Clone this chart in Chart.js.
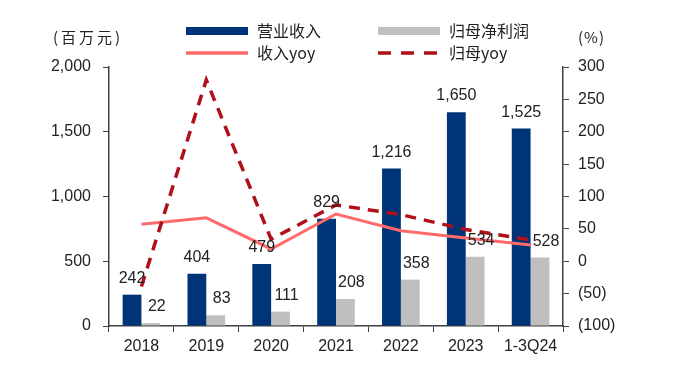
<!DOCTYPE html>
<html>
<head>
<meta charset="utf-8">
<script src="https://cdn.jsdelivr.net/npm/chart.js@4.4.0/dist/chart.umd.min.js"></script>
<style>
  html, body { margin: 0; padding: 0; background: #fff; }
  #wrap { width: 687px; height: 373px; position: relative; }
</style>
</head>
<body>
<div id="wrap"><canvas id="chart" width="687" height="373"></canvas></div>
<script>
// 数据
const categories = ["2018", "2019", "2020", "2021", "2022", "2023", "1-3Q24"];
const revenue = [242, 404, 479, 829, 1216, 1650, 1525];
const netProfit = [22, 83, 111, 208, 358, 534, 528];
const revenueYoy = [57, 67, 19, 73, 47, 36, 25];
const profitYoy = [-39, 280, 34, 87, 72, 49, 33];

const FONT = "'Liberation Sans', 'Noto Sans CJK SC', Arial, sans-serif";
const CJK = "'Noto Sans CJK SC', 'Liberation Sans', sans-serif";
const AXIS = "#404040";

// 数据标签
const labelPlugin = {
    id: "barLabels",
    afterDatasetsDraw(chart) {
        const ctx = chart.ctx;
        ctx.save();
        ctx.font = "16px " + FONT;
        ctx.fillStyle = "#222";
        ctx.textAlign = "center";
        ctx.textBaseline = "alphabetic";
        [0, 1].forEach((i) => {
            const meta = chart.getDatasetMeta(i);
            meta.data.forEach((bar, j) => {
                const v = chart.data.datasets[i].data[j];
                const dx = i === 1 ? 6 : 0;
                ctx.fillText(v.toLocaleString("en-US"), bar.x + dx, bar.y - 12);
            });
        });
        ctx.restore();
    }
};

// 图例和单位
const legendPlugin = {
    id: "customLegend",
    afterDraw(chart) {
        const ctx = chart.ctx;
        const ds = chart.data.datasets;
        ctx.save();
        ctx.font = "15px " + CJK;
        ctx.fillStyle = "#222";
        ctx.textBaseline = "middle";
        ctx.textAlign = "left";
        ctx.letterSpacing = "3px";
        ctx.fillText("(百万元)", 53, 37);
        ctx.letterSpacing = "1px";
        ctx.fillText("(%)", 578, 37);
        ctx.letterSpacing = "0px";

        ctx.font = "16px " + CJK;
        const items = [
            { x: 186, y: 31, ds: ds[0], type: "bar" },
            { x: 378, y: 31, ds: ds[1], type: "bar" },
            { x: 186, y: 53, ds: ds[2], type: "line" },
            { x: 378, y: 53, ds: ds[3], type: "line" }
        ];
        items.forEach((it) => {
            if (it.type === "bar") {
                ctx.fillStyle = it.ds.backgroundColor;
                ctx.fillRect(it.x, it.y - 4, 62, 8);
            } else {
                ctx.strokeStyle = it.ds.borderColor;
                ctx.lineWidth = 3.5;
                ctx.setLineDash(it.ds.borderDash ? [13, 10] : []);
                ctx.beginPath();
                ctx.moveTo(it.x, it.y);
                ctx.lineTo(it.x + 62, it.y);
                ctx.stroke();
                ctx.setLineDash([]);
            }
            ctx.fillStyle = "#222";
            ctx.fillText(it.ds.label, it.x + 71, it.y);
        });
        ctx.restore();
    }
};

new Chart(document.getElementById("chart"), {
    type: "bar",
    data: {
        labels: categories,
        datasets: [
            {
                label: "营业收入",
                data: revenue,
                backgroundColor: "#003478",
                yAxisID: "y",
                order: 2,
                categoryPercentage: 0.58,
                barPercentage: 1
            },
            {
                label: "归母净利润",
                data: netProfit,
                backgroundColor: "#BFBFBF",
                yAxisID: "y",
                order: 2,
                categoryPercentage: 0.58,
                barPercentage: 1
            },
            {
                type: "line",
                label: "收入yoy",
                data: revenueYoy,
                borderColor: "#FF6B6B",
                borderWidth: 3,
                pointRadius: 0,
                tension: 0,
                yAxisID: "y1",
                order: 1
            },
            {
                type: "line",
                label: "归母yoy",
                data: profitYoy,
                borderColor: "#B0101A",
                borderWidth: 3.5,
                borderDash: [11, 8],
                pointRadius: 0,
                tension: 0,
                yAxisID: "y1",
                order: 0
            }
        ]
    },
    options: {
        responsive: false,
        animation: false,
        layout: { padding: { top: 67, left: 0, right: 0, bottom: 0 } },
        plugins: {
            legend: { display: false },
            tooltip: { enabled: false }
        },
        scales: {
            x: {
                grid: { display: true, drawOnChartArea: false, tickLength: 6, color: AXIS, offset: true },
                border: { color: AXIS, width: 1.5 },
                ticks: { font: { size: 16, family: FONT }, color: "#222", padding: 5, maxRotation: 0 },
                afterFit: (axis) => { axis.height = 47; }
            },
            y: {
                position: "left",
                min: 0,
                max: 2000,
                ticks: {
                    stepSize: 500,
                    font: { size: 16, family: FONT },
                    color: "#222",
                    padding: 12,
                    callback: (v) => v.toLocaleString("en-US")
                },
                grid: { drawOnChartArea: false, tickLength: 6, color: AXIS },
                border: { color: AXIS, width: 1.5 },
                afterFit: (axis) => { axis.width = 109; }
            },
            y1: {
                position: "right",
                min: -100,
                max: 300,
                ticks: {
                    stepSize: 50,
                    font: { size: 16, family: FONT },
                    color: "#222",
                    padding: 9,
                    callback: (v) => v < 0 ? "(" + Math.abs(v) + ")" : String(v)
                },
                grid: { drawOnChartArea: false, tickLength: 6, color: AXIS },
                border: { color: AXIS, width: 1.5 },
                afterFit: (axis) => { axis.width = 124; }
            }
        }
    },
    plugins: [labelPlugin, legendPlugin]
});
</script>
</body>
</html>
